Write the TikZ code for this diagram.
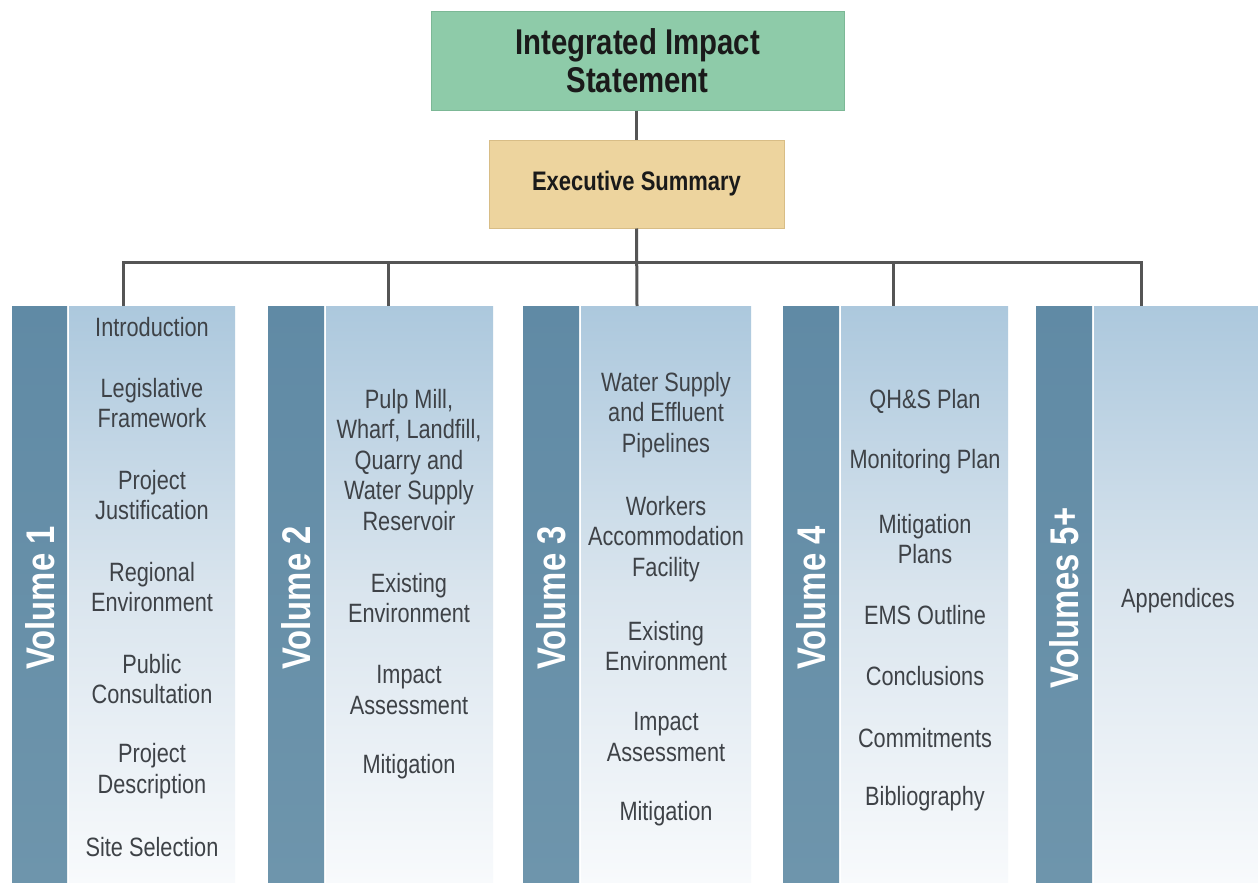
\documentclass[tikz,border=0pt]{standalone}
\usepackage{fontspec}
\setmainfont{Liberation Sans}[FakeStretch=0.82]
\definecolor{titlefill}{HTML}{8ECBA9}
\definecolor{titledraw}{HTML}{7CB896}
\definecolor{execfill}{HTML}{EDD49E}
\definecolor{execdraw}{HTML}{D8BD86}
\definecolor{stripc}{HTML}{608AA5}
\definecolor{stripb}{HTML}{6E95AC}
\definecolor{paneltop}{HTML}{ACC8DD}
\definecolor{panelmid}{HTML}{DAE5EE}
\definecolor{panelbot}{HTML}{F8FAFC}
\definecolor{conncol}{HTML}{555555}
\definecolor{itemcol}{HTML}{3E4247}
\definecolor{titletext}{HTML}{1A1A1A}
\tikzset{
  conn/.style={draw=conncol, line width=3pt},
  strip/.style={top color=stripc, bottom color=stripb, draw=none},
  panel/.style={top color=paneltop, bottom color=panelbot, middle color=panelmid, draw=none},
  item/.style={text=itemcol, align=center, inner sep=0pt, font=\fontsize{26.5}{30.5}\selectfont},
  vol/.style={text=white, rotate=90, inner sep=0pt, font=\fontsize{40}{44}\selectfont\bfseries},
}
\begin{document}
\begin{tikzpicture}[x=1pt,y=-1pt]
\useasboundingbox[fill=white] (0,0) rectangle (1258,883);

% top boxes
\node[draw=titledraw, fill=titlefill, line width=1pt, minimum width=413pt, minimum height=98pt,
      align=center, text=titletext, font=\fontsize{35.8}{38}\selectfont\bfseries] (title) at (637.5,61)
      {Integrated Impact\\Statement};
\node[draw=execdraw, fill=execfill, line width=1pt, minimum width=295pt, minimum height=88pt,
      text=titletext, font=\fontsize{26.8}{30}\selectfont\bfseries] (exec) at (636.5,184)
      {Executive Summary};

% columns: strips and panels
\path[strip] (12,306) rectangle (67,883);
\path[panel] (69,306) rectangle (235,883);
\path[strip] (268,306) rectangle (324,883);
\path[panel] (326,306) rectangle (493,883);
\path[strip] (523,306) rectangle (579,883);
\path[panel] (581,306) rectangle (751,883);
\path[strip] (783,306) rectangle (839,883);
\path[panel] (841,306) rectangle (1008,883);
\path[strip] (1036,306) rectangle (1092,883);
\path[panel] (1094,306) rectangle (1258,883);

% connector coordinates
\coordinate (d1) at (123,306);
\coordinate (d2) at (388,306);
\coordinate (d3) at (637,306);
\coordinate (d4) at (893,306);
\coordinate (d5) at (1141,306);
\coordinate (b1) at (123,262);
\coordinate (b2) at (388,262);
\coordinate (b4) at (893,262);
\coordinate (b5) at (1141,262);

\draw[conn] (title.south -| exec.north) -- (exec.north);
\draw[conn] (exec.south) -- (d3);
\draw[conn] (d1) -- (b1) -- (b5) -- (d5);
\draw[conn] (b2) -- (d2);
\draw[conn] (b4) -- (d4);

% volume labels
\node[vol] (vol1) at (40,598) {Volume 1};
\node[vol] (vol2) at (296,598) {Volume 2};
\node[vol] (vol3) at (551,598) {Volume 3};
\node[vol] (vol4) at (811,598) {Volume 4};
\node[vol] (vol5) at (1064,598) {Volumes 5+};

% volume 1 items
\node[item] (a1) at (152,327) {Introduction};
\node[item] (a2) at (152,403) {Legislative\\Framework};
\node[item] (a3) at (152,495) {Project\\Justification};
\node[item] (a4) at (152,587) {Regional\\Environment};
\node[item] (a5) at (152,679) {Public\\Consultation};
\node[item] (a6) at (152,771) {Project\\Description};
\node[item] (a7) at (152,847) {Site Selection};

% volume 2 items
\node[item] (b2i1) at (409,460) {Pulp Mill,\\Wharf, Landfill,\\Quarry and\\Water Supply\\Reservoir};
\node[item] (b2i2) at (409,598) {Existing\\Environment};
\node[item] (b2i3) at (409,690) {Impact\\Assessment};
\node[item] (b2i4) at (409,767) {Mitigation};

% volume 3 items
\node[item] (c1) at (666,415) {Water Supply\\and Effluent\\Pipelines};
\node[item] (c2) at (666,539) {Workers\\Accommodation\\Facility};
\node[item] (c3) at (666,646) {Existing\\Environment};
\node[item] (c4) at (666,737) {Impact\\Assessment};
\node[item] (c5) at (666,814) {Mitigation};

% volume 4 items
\node[item] (e1) at (925,401) {QH\&S Plan};
\node[item] (e2) at (925,462) {Monitoring Plan};
\node[item] (e3) at (925,539) {Mitigation\\Plans};
\node[item] (e4) at (925,615) {EMS Outline};
\node[item] (e5) at (925,676) {Conclusions};
\node[item] (e6) at (925,738) {Commitments};
\node[item] (e7) at (925,799) {Bibliography};

% volume 5 items
\node[item] (f1) at (1178,601) {Appendices};
\end{tikzpicture}
\end{document}
